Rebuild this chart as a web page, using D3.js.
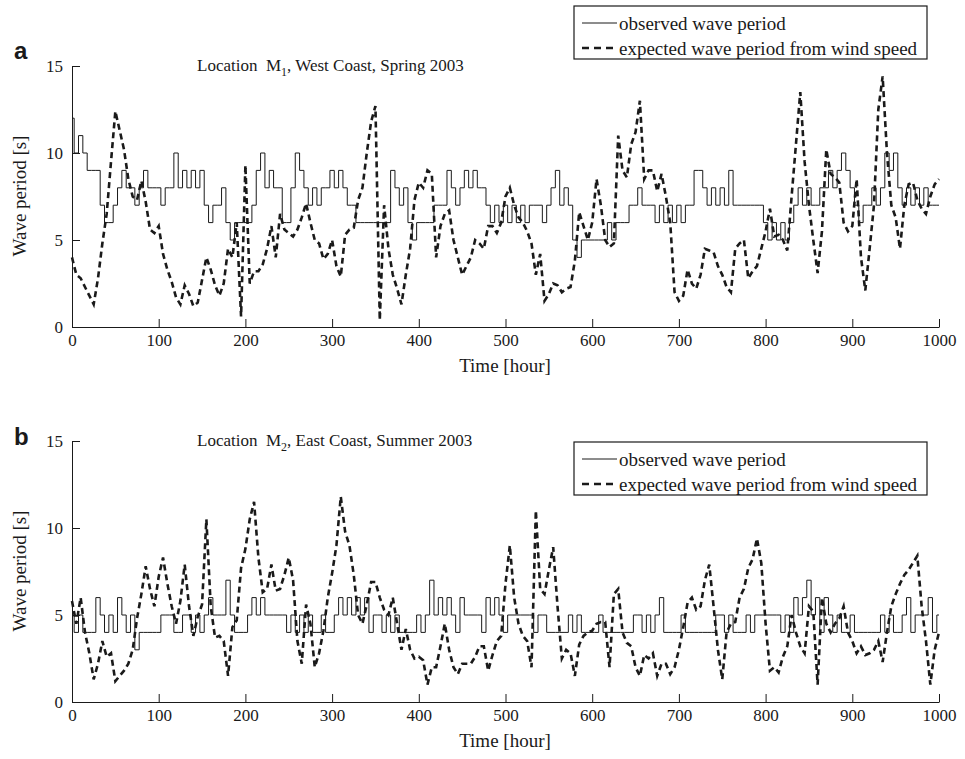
<!DOCTYPE html>
<html>
<head>
<meta charset="UTF-8">
<title>Wave period</title>
<script src="https://d3js.org/d3.v7.min.js"></script>
<style>
  body { margin: 0; background: #fff; }
  svg text { font-family: "Liberation Serif", "Times New Roman", serif; fill: #1a1a1a; }
</style>
</head>
<body>
<div id="chart"></div>
<script>
// sample hours (every 5 h)
var hours = d3.range(0, 1001, 5);

// panel a : Location M1, West Coast, Spring 2003
var aObs = [
  12,10,11,10,9,9,9,7,6,6,
  7,8,9,8,8,7,8,9,8,8,
  8,7,8,8,10,8,9,8,9,8,
  9,7,6,7,7,8,6,5,6,6,
  6,6,7,9,10,8,9,8,8,6,
  6,8,10,9,8,7,8,7,8,8,
  9,8,9,8,7,7,6,6,6,6,
  6,6,6,6,9,8,7,8,6,5,
  6,6,6,6,7,7,7,9,8,7,
  8,9,8,9,8,8,7,6,7,6,
  7,6,7,6,7,6,7,7,7,6,
  7,8,9,7,8,7,5,4,5,5,
  5,5,5,5,6,5,6,6,6,7,
  7,8,7,7,7,6,7,6,7,6,
  7,6,7,7,9,9,8,7,8,7,
  8,7,9,7,7,7,7,7,7,7,
  6,5,6,5,6,5,6,7,8,7,
  8,7,7,8,8,9,8,9,10,9,
  8,7,6,7,7,8,7,8,10,9,
  10,8,7,8,7,8,7,8,7,7,
  7
];
var aExp = [
  4.0,3.0,2.8,2.3,1.8,1.3,2.8,4.8,6.5,9.5,
  12.4,11.3,10.2,8.5,7.5,7.3,8.4,7.2,5.6,5.4,
  5.8,4.2,3.3,2.6,1.7,1.3,2.4,1.9,1.2,1.4,
  2.7,4.0,3.3,2.4,1.8,2.5,4.5,4.0,6.0,0.6,
  9.3,2.5,3.2,3.2,3.6,4.5,5.8,4.0,6.5,5.6,
  5.4,5.2,5.6,6.3,7.1,6.0,5.0,4.8,3.9,4.2,
  5.0,3.5,2.9,5.3,5.6,5.7,7.3,8.0,10.0,11.8,
  12.7,0.4,7.0,4.5,3.0,2.2,1.3,3.0,4.5,7.3,
  8.3,8.0,9.0,8.8,4.0,5.8,6.5,6.7,5.0,4.0,
  3.0,3.5,4.0,5.0,4.8,4.5,5.8,5.8,5.4,6.0,
  7.5,8.0,7.0,6.3,6.0,5.5,4.8,3.0,4.2,1.5,
  1.9,2.5,2.4,2.0,2.2,2.3,3.8,6.6,5.8,5.0,
  6.0,8.5,7.0,5.0,4.6,4.8,11.0,9.0,8.6,10.5,
  11.2,13.0,8.5,9.0,9.0,7.8,8.8,7.5,6.0,2.0,
  1.5,1.8,3.3,2.5,2.2,3.0,4.5,4.4,4.3,3.5,
  3.0,2.3,2.0,4.5,4.8,5.0,2.8,3.2,3.5,4.5,
  5.5,6.8,5.2,5.3,5.0,4.4,7.5,10.5,13.5,9.5,
  7.0,5.0,3.1,5.5,10.2,8.8,8.6,8.3,6.0,5.5,
  5.8,8.5,4.0,2.1,4.5,7.0,12.5,14.4,10.0,7.0,
  6.3,4.5,7.0,8.2,8.3,7.3,6.8,6.5,7.5,8.2,
  8.5
];

// panel b : Location M2, East Coast, Summer 2003
var bObs = [
  5,4,5,4,4,4,6,5,4,5,
  4,6,5,4,5,3,4,4,4,4,
  4,5,5,5,4,4,5,5,4,5,
  4,5,6,5,5,5,7,5,4,4,
  4,5,6,5,6,5,5,5,5,5,
  4,5,4,5,4,5,4,4,5,4,
  4,5,6,5,6,5,6,5,6,4,
  5,5,4,5,4,5,4,4,4,4,
  5,4,5,7,5,6,5,6,5,4,
  6,5,5,5,5,4,6,5,6,5,
  4,5,5,5,5,5,5,4,5,5,
  4,4,4,4,4,5,4,5,4,4,
  4,4,5,4,4,4,4,4,4,4,
  5,5,4,5,4,5,6,4,4,4,
  4,5,4,4,4,4,4,4,4,5,
  5,4,5,4,4,4,5,4,5,5,
  5,5,5,5,4,5,4,6,5,6,
  7,5,6,4,6,5,4,5,4,4,
  5,4,4,4,4,4,4,5,4,5,
  4,4,5,6,4,5,5,5,6,4,
  5
];
var bExp = [
  5.8,4.5,6.0,4.0,2.8,1.3,2.2,3.5,2.6,2.8,
  1.2,1.5,1.8,2.2,3.0,4.8,6.2,7.8,6.5,5.5,
  7.2,8.3,6.8,5.5,4.5,5.8,7.9,5.5,3.8,4.9,
  5.6,10.5,5.5,3.7,3.8,3.5,1.5,4.3,4.7,7.7,
  8.8,10.5,11.5,8.3,6.3,6.5,7.9,6.4,6.5,7.3,
  8.3,7.0,3.5,2.2,5.6,4.5,2.0,2.8,4.1,6.0,
  7.4,9.0,11.8,9.8,9.0,7.3,5.0,4.5,5.6,6.9,
  6.9,6.0,5.3,5.0,6.0,4.5,3.0,4.2,3.0,2.5,
  2.6,2.4,1.0,2.0,2.0,3.2,4.5,3.0,2.0,1.6,
  2.2,2.2,2.2,2.6,3.2,3.2,1.8,2.7,3.5,3.8,
  6.8,9.0,6.0,4.5,3.8,3.5,2.0,11.0,6.5,6.2,
  7.6,8.9,5.5,2.5,3.0,2.8,1.5,3.3,3.8,4.0,
  4.1,4.5,4.6,4.6,2.0,6.2,6.5,4.0,3.4,3.2,
  2.0,1.5,2.7,2.5,2.8,1.5,2.2,2.2,1.6,2.0,
  3.0,4.3,5.7,6.0,5.3,5.5,7.0,7.9,5.5,3.0,
  1.3,4.0,4.5,4.6,6.0,6.5,7.7,8.2,9.4,8.0,
  4.5,1.8,2.0,1.7,2.6,3.2,5.0,4.0,3.2,2.8,
  5.5,5.2,1.0,6.0,4.5,4.0,4.5,4.8,5.5,4.0,
  3.5,2.8,3.2,2.7,2.8,3.0,3.5,2.3,4.0,5.5,
  6.2,6.8,7.3,7.6,8.0,8.4,5.5,3.5,1.0,3.0,
  4.0
];

var xTicks = [0, 100, 200, 300, 400, 500, 600, 700, 800, 900, 1000];
var yTicks = [0, 5, 10, 15];
var legendLabels = ["observed wave period", "expected wave period from wind speed"];

var width = 965, height = 759;
var ink = "#1a1a1a";

var svg = d3.select("#chart").append("svg")
    .attr("width", width)
    .attr("height", height);

var x = d3.scaleLinear().domain([0, 1000]).range([72, 939]);

function drawPanel(p) {
  var y = d3.scaleLinear().domain([0, 15]).range([p.top + 261, p.top]);
  var g = svg.append("g");

  // axes, inward ticks, no box
  var ax = g.append("g")
      .attr("transform", "translate(0," + (p.top + 261) + ")")
      .call(d3.axisBottom(x).tickValues(xTicks).tickFormat(d3.format("d"))
        .tickSize(-8).tickSizeOuter(0).tickPadding(7));
  var ay = g.append("g")
      .attr("transform", "translate(72,0)")
      .call(d3.axisLeft(y).tickValues(yTicks).tickFormat(d3.format("d"))
        .tickSize(-8).tickSizeOuter(0).tickPadding(9));
  [ax, ay].forEach(function(a) {
    a.selectAll("path, line").attr("stroke", ink).attr("stroke-width", 1);
    a.selectAll("text").style("font-size", "17px").attr("fill", ink)
      .style("font-family", "'Liberation Serif', 'Times New Roman', serif");
  });

  var obsLine = d3.line()
      .x(function(d, i) { return x(hours[i]); })
      .y(function(d) { return y(d); })
      .curve(d3.curveStep);
  var expLine = d3.line()
      .x(function(d, i) { return x(hours[i]); })
      .y(function(d) { return y(d); });

  g.append("path")
      .datum(p.obs)
      .attr("fill", "none")
      .attr("stroke", ink)
      .attr("stroke-width", 1)
      .attr("d", obsLine);

  g.append("path")
      .datum(p.exp)
      .attr("fill", "none")
      .attr("stroke", ink)
      .attr("stroke-width", 2.6)
      .attr("stroke-dasharray", "6,4")
      .attr("d", expLine);

  // axis labels
  g.append("text")
      .attr("x", 505)
      .attr("y", p.top + 306)
      .attr("text-anchor", "middle")
      .style("font-size", "19px")
      .text("Time [hour]");
  g.append("text")
      .attr("transform", "translate(26," + (p.top + 130) + ") rotate(-90)")
      .attr("text-anchor", "middle")
      .style("font-size", "19px")
      .text("Wave period [s]");

  // panel letter
  g.append("text")
      .attr("x", 14)
      .attr("y", p.letterY)
      .style("font-family", "'Liberation Sans', Arial, sans-serif")
      .style("font-weight", "bold")
      .style("font-size", "24px")
      .text(p.letter);

  // title with subscript
  var t = g.append("text")
      .attr("x", 197)
      .attr("y", p.titleY)
      .style("font-size", "17px")
      .style("white-space", "pre");
  t.append("tspan").text("Location  M");
  t.append("tspan").attr("dy", 5).style("font-size", "12px").text(p.sub);
  t.append("tspan").attr("dy", -5).text(p.rest);

  // legend
  var lg = g.append("g").attr("transform", "translate(574," + p.legendTop + ")");
  lg.append("rect")
      .attr("width", 353).attr("height", 53)
      .attr("fill", "#fff").attr("stroke", ink).attr("stroke-width", 1.2);
  lg.append("line")
      .attr("x1", 8).attr("x2", 43).attr("y1", 17).attr("y2", 17)
      .attr("stroke", ink).attr("stroke-width", 1);
  lg.append("line")
      .attr("x1", 8).attr("x2", 43).attr("y1", 42).attr("y2", 42)
      .attr("stroke", ink).attr("stroke-width", 2.6).attr("stroke-dasharray", "7,5");
  lg.selectAll("text.lab")
      .data(legendLabels)
      .enter().append("text")
      .attr("class", "lab")
      .attr("x", 45)
      .attr("y", function(d, i) { return 17 + i * 25; })
      .attr("dy", "0.35em")
      .style("font-size", "19px")
      .text(function(d) { return d; });
}

drawPanel({ top: 66, obs: aObs, exp: aExp, letter: "a", sub: "1",
            rest: ", West Coast, Spring 2003", titleY: 71, letterY: 59, legendTop: 6 });
drawPanel({ top: 441, obs: bObs, exp: bExp, letter: "b", sub: "2",
            rest: ", East Coast, Summer 2003", titleY: 446, letterY: 445, legendTop: 442 });
</script>
</body>
</html>
